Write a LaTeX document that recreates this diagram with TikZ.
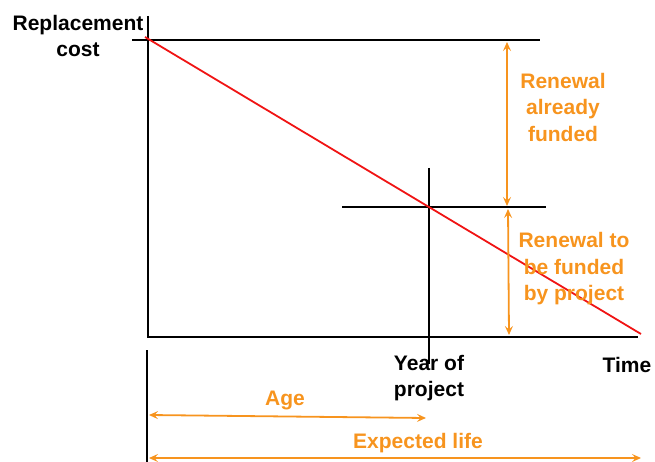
\documentclass[tikz,border=0pt]{standalone}
\usepackage{fontspec}
\setmainfont{Liberation Sans}
\usetikzlibrary{arrows.meta}
\definecolor{amber}{RGB}{247,148,30}
\definecolor{deprline}{RGB}{240,20,20}
\begin{document}
\begin{tikzpicture}[x=1pt,y=-1pt,
  axis/.style={line width=2pt,black},
  span/.style={line width=1.8pt,amber,{Stealth[length=9pt,width=8pt,inset=3.5pt]}-{Stealth[length=9pt,width=8pt,inset=3.5pt]}},
  lbl/.style={font=\fontsize{21}{26.5}\selectfont\bfseries,align=center,inner sep=0pt},
  olbl/.style={lbl,text=amber}]
\useasboundingbox (0,0) rectangle (655,462);

% axes
\coordinate (yTop) at (148,16);
\coordinate (origin) at (148,337);
\coordinate (xEnd) at (638,337);
\draw[axis] (yTop) -- (origin) -- (xEnd);

% replacement cost level
\coordinate (rcL) at (132,40);
\coordinate (rcR) at (540,40);
\draw[axis] (rcL) -- (rcR);

% project year cross
\coordinate (pyL) at (342,207);
\coordinate (pyR) at (546,207);
\coordinate (pyT) at (429,168);
\coordinate (pyB) at (429,364);
\draw[axis] (pyL) -- (pyR);
\draw[axis] (pyT) -- (pyB);

% depreciation line
\coordinate (dStart) at (145,37);
\coordinate (dEnd) at (641,334);
\draw[line width=1.8pt,deprline] (dStart) -- (dEnd);

% lower reference line
\coordinate (lifeT) at (147,350);
\coordinate (lifeB) at (147,462);
\draw[axis] (lifeT) -- (lifeB);

% funding spans
\coordinate (fA) at (507,42);
\coordinate (fB) at (507,206);
\coordinate (fC) at (508,209);
\coordinate (fD) at (509,335);
\draw[span] (fA) -- (fB);
\draw[span] (fC) -- (fD);

% age and life spans
\coordinate (ageL) at (149,415);
\coordinate (ageR) at (426,418);
\coordinate (lifeL) at (149,458);
\coordinate (lifeR) at (641,458);
\draw[span] (ageL) -- (ageR);
\draw[span] (lifeL) -- (lifeR);

% labels
\node[lbl] (rc) at (78,36) {Replacement\\cost};
\node[lbl] (year) at (429,378) {Year of\\project};
\node[lbl] (time) at (627,365) {Time};
\node[olbl] (funded) at (563,107) {Renewal\\already\\funded};
\node[olbl] (tofund) at (574,269) {Renewal to\\be funded\\by project};
\node[olbl] (age) at (285,400) {Age};
\node[olbl] (life) at (418,443) {Expected life};
\end{tikzpicture}
\end{document}
